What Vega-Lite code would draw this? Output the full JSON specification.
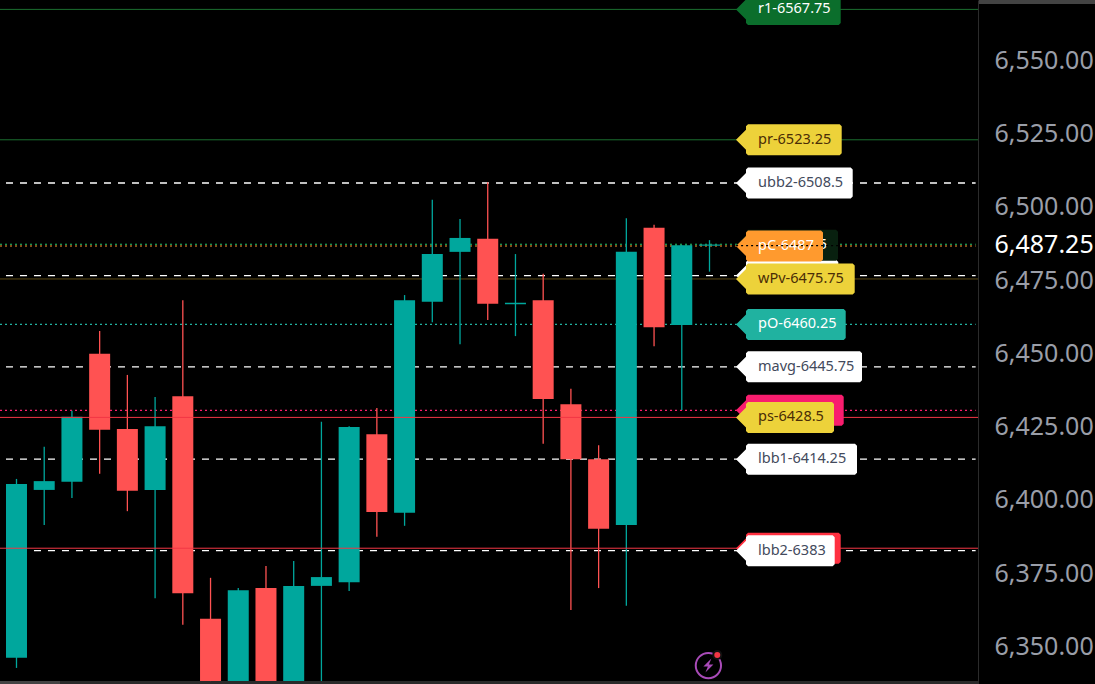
{
"$schema":"https://vega.github.io/schema/vega-lite/v6.json",
"width":978,"height":684,
"autosize":{"type":"none"},
"padding":{"left":0,"top":0,"right":117,"bottom":0},
"background":"#000000",
"config":{"view":{"stroke":null},"axisX":{"disable":true},"axis":{"grid":false,"title":null},
"axisY":{"domainColor":"#2b2b2b","domainWidth":1,"ticks":false,"labelFont":"Noto Sans","labelFontSize":25,"labelPadding":16,"labelAlign":"left","labelOverlap":false,"labelBound":false,"labelFlush":false}},
"resolve":{"scale":{"color":"independent","fill":"independent","stroke":"independent","shape":"independent"}},
"datasets":{
"candles":[
{"bar":0,"dir":"up","high":6407.5,"top":6405.75,"bottom":6346.5,"low":6343},
{"bar":1,"dir":"up","high":6418.5,"top":6406.75,"bottom":6403.75,"low":6391.75},
{"bar":2,"dir":"up","high":6430.75,"top":6428.75,"bottom":6406.5,"low":6401},
{"bar":3,"dir":"down","high":6458,"top":6450.25,"bottom":6424.25,"low":6409.25},
{"bar":4,"dir":"down","high":6443,"top":6424.5,"bottom":6403.5,"low":6396.5},
{"bar":5,"dir":"up","high":6435.5,"top":6425.5,"bottom":6403.75,"low":6366.75},
{"bar":6,"dir":"down","high":6468.5,"top":6435.75,"bottom":6368.5,"low":6357.75},
{"bar":7,"dir":"down","high":6373.75,"top":6359.75,"bottom":6338.5,"low":6338.5},
{"bar":8,"dir":"up","high":6370.25,"top":6369.5,"bottom":6338.5,"low":6338.5},
{"bar":9,"dir":"down","high":6377.75,"top":6370.25,"bottom":6338.5,"low":6338.5},
{"bar":10,"dir":"up","high":6379.5,"top":6371,"bottom":6338.5,"low":6338.5},
{"bar":11,"dir":"up","high":6427,"top":6374,"bottom":6371,"low":6338.5},
{"bar":12,"dir":"up","high":6425.5,"top":6425.25,"bottom":6372.25,"low":6369.25},
{"bar":13,"dir":"down","high":6431.75,"top":6422.75,"bottom":6396.25,"low":6387.75},
{"bar":14,"dir":"up","high":6470.25,"top":6468.5,"bottom":6396,"low":6391.5},
{"bar":15,"dir":"up","high":6502.75,"top":6484.25,"bottom":6468,"low":6461},
{"bar":16,"dir":"up","high":6496.25,"top":6489.75,"bottom":6485,"low":6453.5},
{"bar":17,"dir":"down","high":6508.75,"top":6489.5,"bottom":6467.25,"low":6461.75},
{"bar":18,"dir":"up","high":6484.25,"top":6467.6,"bottom":6467.1,"low":6456.25},
{"bar":19,"dir":"down","high":6477.5,"top":6468.5,"bottom":6434.75,"low":6419.5},
{"bar":20,"dir":"down","high":6438.25,"top":6433,"bottom":6414.25,"low":6362.75},
{"bar":21,"dir":"down","high":6419,"top":6414.25,"bottom":6390.5,"low":6370.25},
{"bar":22,"dir":"up","high":6496.5,"top":6485,"bottom":6391.75,"low":6364.25},
{"bar":23,"dir":"down","high":6494.25,"top":6493.25,"bottom":6459.25,"low":6452.75},
{"bar":24,"dir":"up","high":6487.25,"top":6487.25,"bottom":6460,"low":6431},
{"bar":25,"dir":"up","high":6489,"top":6487.5,"bottom":6487.1,"low":6478.25}
],
"levels":[
{"level":"ubb2","price":6508.5,"style":"dashed"},
{"level":"hidden","price":6476.9,"style":"dashed"},
{"level":"mavg","price":6445.75,"style":"dashed"},
{"level":"lbb1","price":6414.25,"style":"dashed"},
{"level":"lbb2","price":6383,"style":"dashed"},
{"level":"last","price":6487.6,"style":"dotted"},
{"level":"pC","price":6487,"style":"dotted"},
{"level":"pO","price":6460.25,"style":"dotted"},
{"level":"pink","price":6430.9,"style":"dotted"},
{"level":"wPv","price":6475.75,"style":"under"},
{"level":"r1","price":6567.75,"style":"over"},
{"level":"pr","price":6523.25,"style":"over"},
{"level":"ps","price":6428.5,"style":"over"},
{"level":"red","price":6383.85,"style":"over"}
],
"tags":[
{"name":"pink-6430.9","price":6430.9,"group":"back"},
{"name":"red-6383.85","price":6383.85,"group":"back"},
{"name":"v-6476.9","price":6476.9,"group":"back"},
{"name":"cl-6487.25","price":6487.25,"group":"back"},
{"name":"r1-6567.75","price":6567.75,"group":"front"},
{"name":"pr-6523.25","price":6523.25,"group":"front"},
{"name":"ubb2-6508.5","price":6508.5,"group":"front"},
{"name":"pC-6487","price":6487,"group":"front"},
{"name":"wPv-6475.75","price":6475.75,"group":"front"},
{"name":"pO-6460.25","price":6460.25,"group":"front"},
{"name":"mavg-6445.75","price":6445.75,"group":"front"},
{"name":"ps-6428.5","price":6428.5,"group":"front"},
{"name":"lbb1-6414.25","price":6414.25,"group":"front"},
{"name":"lbb2-6383","price":6383,"group":"front"}
]
},
"layer":[
{"data":{"values":[{"x0":34.72,"x1":38.91,"y0":6570.96,"y1":6569.6,"part":"scale"},{"x0":-0.6,"x1":34.69,"y0":6338.55,"y1":6337.5,"part":"track"},{"x0":-0.6,"x1":1.57,"y0":6338.55,"y1":6337.5,"part":"thumb"}]},
 "mark":{"type":"rect"},
 "encoding":{
  "x":{"field":"x0","type":"quantitative","scale":{"domain":[-0.595,34.686],"nice":false,"zero":false,"padding":0}},
  "x2":{"field":"x1"},
  "y":{"field":"y0","type":"quantitative","scale":{"domain":[6337.51,6570.96],"nice":false,"zero":false,"padding":0},
   "axis":{"orient":"right","values":[6350,6375,6400,6425,6450,6475,6487.25,6500,6525,6550],"format":",.2f","labelColor":{"condition":{"test":"datum.value==6487.25","value":"#ffffff"},"value":"#9a9ea8"},"labelOffset":-1}},
  "y2":{"field":"y1"},
  "color":{"field":"part","type":"nominal","scale":{"domain":["scale","track","thumb"],"range":["#434343","#2a2a2a","#434343"]},"legend":null}}},
{"data":{"name":"levels"},"transform":[{"filter":"datum.style=='dashed'"}],
 "mark":{"type":"rule","strokeDash":[7,7],"strokeWidth":1.3,"color":"#ffffff"},
 "encoding":{"y":{"field":"price","type":"quantitative"},"x":{"datum":-0.379},"x2":{"datum":34.6}}},
{"data":{"name":"levels"},"transform":[{"filter":"datum.style=='dotted'"}],
 "mark":{"type":"rule","strokeDash":[2,3],"strokeWidth":1.2},
 "encoding":{"y":{"field":"price","type":"quantitative"},"x":{"datum":-0.595},"x2":{"datum":34.6},
  "stroke":{"field":"level","type":"nominal","scale":{"domain":["last","pC","pO","pink"],"range":["#1fc46a","#ff9a2e","#20b2a0","#f91d6e"]},"legend":null}}},
{"data":{"name":"levels"},"transform":[{"filter":"datum.style=='under'"}],
 "mark":{"type":"rule","strokeWidth":1,"color":"#5c4a14"},
 "encoding":{"y":{"field":"price","type":"quantitative"},"x":{"datum":-0.595},"x2":{"datum":34.686}}},
{"data":{"name":"candles"},
 "mark":{"type":"rule","strokeWidth":1.3},
 "encoding":{"x":{"field":"bar","type":"quantitative"},"y":{"field":"high","type":"quantitative"},"y2":{"field":"low"},
  "color":{"field":"dir","type":"nominal","scale":{"domain":["up","down"],"range":["#00a79d","#ff5252"]},"legend":null}}},
{"data":{"name":"candles"},
 "mark":{"type":"bar","size":21},
 "encoding":{"x":{"field":"bar","type":"quantitative"},"y":{"field":"top","type":"quantitative"},"y2":{"field":"bottom"},
  "color":{"field":"dir","type":"nominal","scale":{"domain":["up","down"],"range":["#00a79d","#ff5252"]},"legend":null}}},
{"data":{"name":"levels"},"transform":[{"filter":"datum.style=='over'"}],
 "mark":{"type":"rule","strokeWidth":1},
 "encoding":{"y":{"field":"price","type":"quantitative"},"x":{"datum":-0.595},"x2":{"datum":34.686},
  "stroke":{"field":"level","type":"nominal","scale":{"domain":["r1","pr","ps","red"],"range":["#1b6e30","#1b6e30","#f23645","#f23645"]},"legend":null}}},
{"data":{"name":"tags"},"transform":[{"filter":"datum.group=='back'"}],
 "mark":{"type":"point","filled":true,"opacity":1,"size":4,"strokeWidth":0},
 "encoding":{"x":{"datum":25.956},"y":{"field":"price","type":"quantitative"},
  "shape":{"field":"name","type":"nominal","legend":null,"scale":{"domain":["pink-6430.9","red-6383.85","v-6476.9","cl-6487.25"],"range":[
   "M 0 0 L 10 -10 L 10 -13.5 L 12 -15.5 L 105.7 -15.5 L 107.7 -13.5 L 107.7 13.5 L 105.7 15.5 L 12 15.5 L 10 13.5 L 10 10 Z",
   "M 0 0 L 10 -10 L 10 -13.5 L 12 -15.5 L 102.7 -15.5 L 104.7 -13.5 L 104.7 13.5 L 102.7 15.5 L 12 15.5 L 10 13.5 L 10 10 Z",
   "M 0 0 L 10 -10 L 10 -13.5 L 12 -15.5 L 100.3 -15.5 L 102.3 -13.5 L 102.3 13.5 L 100.3 15.5 L 12 15.5 L 10 13.5 L 10 10 Z",
   "M 0 0 L 10 -10 L 10 -13.5 L 12 -15.5 L 100 -15.5 L 102 -13.5 L 102 13.5 L 100 15.5 L 12 15.5 L 10 13.5 L 10 10 Z"]}},
  "fill":{"field":"name","type":"nominal","legend":null,"scale":{"domain":["pink-6430.9","red-6383.85","v-6476.9","cl-6487.25"],"range":["#f91d6e","#ff3040","#ffffff","#08200f"]}}}},
{"data":{"name":"tags"},"transform":[{"filter":"datum.name=='cl-6487.25'"}],
 "mark":{"type":"text","font":"Noto Sans","fontSize":14.5,"align":"left","baseline":"middle","dx":22},
 "encoding":{"x":{"datum":25.956},"y":{"field":"price","type":"quantitative"},"text":{"field":"name"},
  "color":{"field":"group","type":"nominal","scale":{"domain":["back"],"range":["#ffffff"]},"legend":null}}},
{"data":{"name":"tags"},"transform":[{"filter":"datum.group=='front'"}],
 "mark":{"type":"point","filled":true,"opacity":1,"size":4,"strokeWidth":0},
 "encoding":{"x":{"datum":25.956},"y":{"field":"price","type":"quantitative"},
  "shape":{"field":"name","type":"nominal","legend":null,"scale":{"domain":["r1-6567.75","pr-6523.25","ubb2-6508.5","pC-6487","wPv-6475.75","pO-6460.25","mavg-6445.75","ps-6428.5","lbb1-6414.25","lbb2-6383"],"range":[
   "M 0 0 L 10 -10 L 10 -13.5 L 12 -15.5 L 102.7 -15.5 L 104.7 -13.5 L 104.7 13.5 L 102.7 15.5 L 12 15.5 L 10 13.5 L 10 10 Z",
   "M 0 0 L 10 -10 L 10 -13.5 L 12 -15.5 L 103.7 -15.5 L 105.7 -13.5 L 105.7 13.5 L 103.7 15.5 L 12 15.5 L 10 13.5 L 10 10 Z",
   "M 0 0 L 10 -10 L 10 -13.5 L 12 -15.5 L 114.7 -15.5 L 116.7 -13.5 L 116.7 13.5 L 114.7 15.5 L 12 15.5 L 10 13.5 L 10 10 Z",
   "M 0 0 L 10 -10 L 10 -13.5 L 12 -15.5 L 85 -15.5 L 87 -13.5 L 87 13.5 L 85 15.5 L 12 15.5 L 10 13.5 L 10 10 Z",
   "M 0 0 L 10 -10 L 10 -13.5 L 12 -15.5 L 116.7 -15.5 L 118.7 -13.5 L 118.7 13.5 L 116.7 15.5 L 12 15.5 L 10 13.5 L 10 10 Z",
   "M 0 0 L 10 -10 L 10 -13.5 L 12 -15.5 L 107.7 -15.5 L 109.7 -13.5 L 109.7 13.5 L 107.7 15.5 L 12 15.5 L 10 13.5 L 10 10 Z",
   "M 0 0 L 10 -10 L 10 -13.5 L 12 -15.5 L 124 -15.5 L 126 -13.5 L 126 13.5 L 124 15.5 L 12 15.5 L 10 13.5 L 10 10 Z",
   "M 0 0 L 10 -10 L 10 -13.5 L 12 -15.5 L 96 -15.5 L 98 -13.5 L 98 13.5 L 96 15.5 L 12 15.5 L 10 13.5 L 10 10 Z",
   "M 0 0 L 10 -10 L 10 -13.5 L 12 -15.5 L 119 -15.5 L 121 -13.5 L 121 13.5 L 119 15.5 L 12 15.5 L 10 13.5 L 10 10 Z",
   "M 0 0 L 10 -10 L 10 -13.5 L 12 -15.5 L 96.7 -15.5 L 98.7 -13.5 L 98.7 13.5 L 96.7 15.5 L 12 15.5 L 10 13.5 L 10 10 Z"]}},
  "fill":{"field":"name","type":"nominal","legend":null,"scale":{"domain":["r1-6567.75","pr-6523.25","ubb2-6508.5","pC-6487","wPv-6475.75","pO-6460.25","mavg-6445.75","ps-6428.5","lbb1-6414.25","lbb2-6383"],"range":["#0b6e2c","#edd23a","#ffffff","#ff9a2e","#edd23a","#20b2a0","#ffffff","#edd23a","#ffffff","#ffffff"]}}}},
{"data":{"name":"tags"},"transform":[{"filter":"datum.group=='front'"}],
 "mark":{"type":"text","font":"Noto Sans","fontSize":14.5,"align":"left","baseline":"middle","dx":22},
 "encoding":{"x":{"datum":25.956},"y":{"field":"price","type":"quantitative"},"text":{"field":"name"},
  "color":{"field":"name","type":"nominal","legend":null,"scale":{"domain":["r1-6567.75","pr-6523.25","ubb2-6508.5","pC-6487","wPv-6475.75","pO-6460.25","mavg-6445.75","ps-6428.5","lbb1-6414.25","lbb2-6383"],"range":["#ffffff","#4a2d06","#434a5c","#ffffff","#4a2d06","#ffffff","#434a5c","#4a2d06","#434a5c","#434a5c"]}}}},
{"data":{"values":[{"from":25.96,"to":29.64,"price":6487.1}]},
 "mark":{"type":"rule","strokeDash":[2,3],"strokeWidth":1.2,"color":"#000000"},
 "encoding":{"y":{"field":"price","type":"quantitative"},"x":{"field":"from","type":"quantitative"},"x2":{"field":"to"}}},
{"data":{"values":[{"bar":24.96,"price":6343.8}]},
 "mark":{"type":"point","shape":"circle","filled":false,"size":640,"strokeWidth":2,"color":"#a94bb8","opacity":1},
 "encoding":{"x":{"field":"bar","type":"quantitative"},"y":{"field":"price","type":"quantitative"}}},
{"data":{"values":[{"bar":24.96,"price":6343.8}]},
 "mark":{"type":"point","shape":"M 3 -7 L -5 1 L -0.5 1 L -3 7 L 5 -1 L 0.5 -1 Z","filled":true,"size":4,"color":"#a94bb8","opacity":1},
 "encoding":{"x":{"field":"bar","type":"quantitative"},"y":{"field":"price","type":"quantitative"}}},
{"data":{"values":[{"bar":25.28,"price":6347.4}]},
 "mark":{"type":"point","shape":"circle","filled":true,"size":64,"color":"#f23645","opacity":1,"stroke":"#111111","strokeWidth":2},
 "encoding":{"x":{"field":"bar","type":"quantitative"},"y":{"field":"price","type":"quantitative"}}}
]
}
